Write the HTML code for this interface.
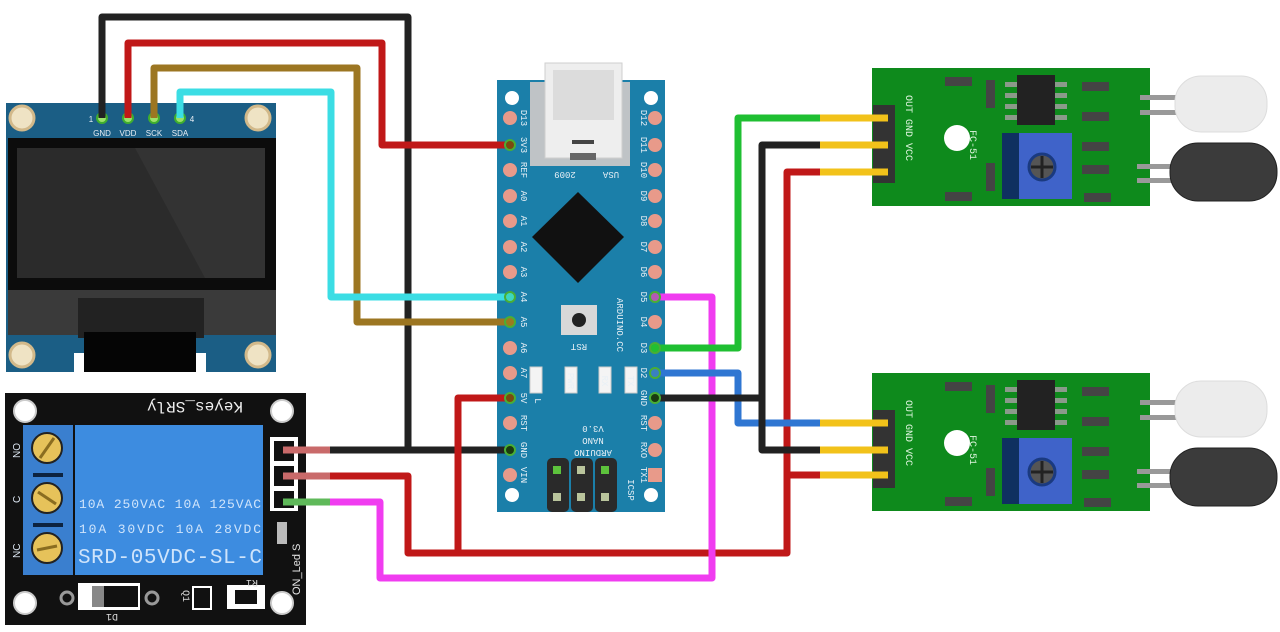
<!DOCTYPE html>
<html><head><meta charset="utf-8"><style>
html,body{margin:0;padding:0;background:#fff;}
svg{display:block;font-family:"Liberation Sans",sans-serif;}
</style></head><body>
<svg width="1280" height="632" viewBox="0 0 1280 632" xmlns="http://www.w3.org/2000/svg">
<rect width="1280" height="632" fill="#fff"/>

<!-- OLED -->
<rect x="6" y="103" width="270" height="269" fill="#1b5e85"/>
<g fill="#efe3c4" stroke="#d2b98a" stroke-width="3">
<circle cx="22" cy="118" r="12"/><circle cx="258" cy="118" r="12"/>
<circle cx="22" cy="355" r="12"/><circle cx="258" cy="355" r="12"/></g>
<rect x="8" y="138" width="268" height="152" fill="#0c0c0c"/>
<rect x="17" y="148" width="248" height="130" fill="#2b2b2b"/>
<polygon points="135,148 265,148 265,278 205,278" fill="#333"/>
<rect x="8" y="290" width="268" height="45" fill="#3a3a3a"/>
<rect x="78" y="298" width="126" height="40" fill="#222"/>
<rect x="84" y="332" width="112" height="40" fill="#050505"/>
<rect x="74" y="353" width="10" height="19" fill="#fff"/><rect x="196" y="353" width="10" height="19" fill="#fff"/>
<g font-size="8" fill="#e8eef4" text-anchor="middle">
<text x="102" y="136">GND</text><text x="128" y="136">VDD</text><text x="154" y="136">SCK</text><text x="180" y="136">SDA</text>
<text x="91" y="122">1</text><text x="192" y="122">4</text></g>
<g fill="#9ce26a" stroke="#3fae2e" stroke-width="2">
<circle cx="102" cy="118" r="5"/><circle cx="128" cy="118" r="5"/><circle cx="154" cy="118" r="5"/><circle cx="180" cy="118" r="5"/></g>

<!-- Arduino Nano -->
<rect x="497" y="80" width="168" height="432" fill="#1b7fa9"/>
<rect x="530" y="82" width="100" height="84" fill="#bfc3c6"/>
<rect x="545" y="63" width="77" height="95" fill="#eeeeee" stroke="#cfcfcf"/>
<rect x="553" y="70" width="61" height="50" fill="#dcdcdc"/>
<rect x="572" y="140" width="22" height="4" fill="#444"/>
<rect x="570" y="153" width="26" height="7" fill="#666"/>
<g fill="#fff"><circle cx="512" cy="98" r="7"/><circle cx="651" cy="98" r="7"/><circle cx="512" cy="495" r="7"/><circle cx="651" cy="495" r="7"/></g>
<polygon points="578,192 624,237 578,283 532,237" fill="#111"/>
<rect x="561" y="305" width="36" height="30" fill="#d8d8d8"/><circle cx="579" cy="320" r="7" fill="#222"/>
<g fill="#f4f4f4" stroke="#ccc"><rect x="530" y="367" width="12" height="26"/><rect x="565" y="367" width="12" height="26"/><rect x="599" y="367" width="12" height="26"/><rect x="625" y="367" width="12" height="26"/></g>
<rect x="547" y="458" width="22" height="54" rx="5" fill="#2a2a2a"/><rect x="571" y="458" width="22" height="54" rx="5" fill="#2a2a2a"/><rect x="595" y="458" width="22" height="54" rx="5" fill="#2a2a2a"/>
<g fill="#b9c49c"><rect x="553" y="466" width="8" height="8" fill="#5dc23c"/><rect x="577" y="466" width="8" height="8"/><rect x="601" y="466" width="8" height="8" fill="#5dc23c"/><rect x="553" y="493" width="8" height="8"/><rect x="577" y="493" width="8" height="8"/><rect x="601" y="493" width="8" height="8"/></g>
<g fill="#e89a8a">
<circle cx="510" cy="118" r="7"/><circle cx="510" cy="170" r="7"/><circle cx="510" cy="196" r="7"/><circle cx="510" cy="221" r="7"/><circle cx="510" cy="247" r="7"/><circle cx="510" cy="272" r="7"/><circle cx="510" cy="348" r="7"/><circle cx="510" cy="373" r="7"/><circle cx="510" cy="423" r="7"/><circle cx="510" cy="475" r="7"/>
<circle cx="655" cy="118" r="7"/><circle cx="655" cy="145" r="7"/><circle cx="655" cy="170" r="7"/><circle cx="655" cy="196" r="7"/><circle cx="655" cy="221" r="7"/><circle cx="655" cy="247" r="7"/><circle cx="655" cy="272" r="7"/><circle cx="655" cy="322" r="7"/><circle cx="655" cy="423" r="7"/><circle cx="655" cy="450" r="7"/><rect x="648" y="468" width="14" height="14"/></g>
<g font-family="Liberation Mono,monospace" font-size="9" fill="#e8f0f6" text-anchor="middle">
<text transform="translate(521,118) rotate(90)">D13</text>
<text transform="translate(521,145) rotate(90)">3V3</text>
<text transform="translate(521,170) rotate(90)">REF</text>
<text transform="translate(521,196) rotate(90)">A0</text>
<text transform="translate(521,221) rotate(90)">A1</text>
<text transform="translate(521,247) rotate(90)">A2</text>
<text transform="translate(521,272) rotate(90)">A3</text>
<text transform="translate(521,297) rotate(90)">A4</text>
<text transform="translate(521,322) rotate(90)">A5</text>
<text transform="translate(521,348) rotate(90)">A6</text>
<text transform="translate(521,373) rotate(90)">A7</text>
<text transform="translate(521,398) rotate(90)">5V</text>
<text transform="translate(521,423) rotate(90)">RST</text>
<text transform="translate(521,450) rotate(90)">GND</text>
<text transform="translate(521,475) rotate(90)">VIN</text>
<text transform="translate(641,118) rotate(90)">D12</text>
<text transform="translate(641,145) rotate(90)">D11</text>
<text transform="translate(641,170) rotate(90)">D10</text>
<text transform="translate(641,196) rotate(90)">D9</text>
<text transform="translate(641,221) rotate(90)">D8</text>
<text transform="translate(641,247) rotate(90)">D7</text>
<text transform="translate(641,272) rotate(90)">D6</text>
<text transform="translate(641,297) rotate(90)">D5</text>
<text transform="translate(641,322) rotate(90)">D4</text>
<text transform="translate(641,348) rotate(90)">D3</text>
<text transform="translate(641,373) rotate(90)">D2</text>
<text transform="translate(641,398) rotate(90)">GND</text>
<text transform="translate(641,423) rotate(90)">RST</text>
<text transform="translate(641,450) rotate(90)">RXO</text>
<text transform="translate(641,475) rotate(90)">TX1</text>
<text transform="translate(535,401) rotate(90)">L</text>
<text transform="translate(568,381) rotate(90)">PWR</text>
<text transform="translate(602,381) rotate(90)">RX</text>
<text transform="translate(628,381) rotate(90)">TX</text>
<text transform="translate(617,325) rotate(90)">ARDUINO.CC</text>
<text transform="translate(628,490) rotate(90)">ICSP</text>
<g transform="translate(593,426) rotate(180)"><text x="0" y="-24">ARDUINO</text><text x="0" y="-12">NANO</text><text x="0" y="0">V3.0</text></g>
<text transform="translate(565,172) rotate(180)">2009</text>
<text transform="translate(611,172) rotate(180)">USA</text>
<text transform="translate(579,344) rotate(180)">RST</text>
</g>

<!-- Relay -->
<rect x="5" y="393" width="301" height="232" fill="#111"/>
<g fill="#fff" stroke="#ccc" stroke-width="2"><circle cx="25" cy="411" r="11"/><circle cx="282" cy="411" r="11"/><circle cx="25" cy="603" r="11"/><circle cx="282" cy="603" r="11"/></g>
<rect x="23" y="425" width="50" height="150" fill="#3a7fcf"/>
<rect x="75" y="425" width="188" height="150" fill="#3d8ce0"/>
<g fill="#e6c25a" stroke="#222" stroke-width="2"><circle cx="47" cy="448" r="15"/><circle cx="47" cy="498" r="15"/><circle cx="47" cy="548" r="15"/></g>
<g stroke="#8a6d20" stroke-width="3"><line x1="40" y1="458" x2="54" y2="438"/><line x1="38" y1="492" x2="56" y2="504"/><line x1="37" y1="550" x2="57" y2="546"/></g>
<rect x="33" y="473" width="30" height="4" fill="#0d2340"/><rect x="33" y="523" width="30" height="4" fill="#0d2340"/>
<g fill="#dfe9f5" font-size="10"><g transform="translate(20,458) rotate(-90)"><text>NO</text></g><g transform="translate(20,503) rotate(-90)"><text>C</text></g><g transform="translate(20,558) rotate(-90)"><text>NC</text></g></g>
<g font-family="Liberation Mono,monospace" fill="#cfe4fb" xml:space="preserve" style="white-space:pre">
<text x="79" y="508" font-size="13" textLength="182">10A 250VAC  10A 125VAC</text>
<text x="79" y="533" font-size="13" textLength="182">10A  30VDC  10A  28VDC</text>
<text x="78" y="563" font-size="21" textLength="184">SRD-05VDC-SL-C</text></g>
<g transform="translate(243,402) rotate(180)"><text font-size="16" fill="#eee" font-family="Liberation Mono,monospace">Keyes_SRly</text></g>
<rect x="270" y="437" width="28" height="74" fill="#fff"/>
<rect x="274" y="441" width="20" height="20" fill="#111"/><rect x="274" y="466" width="20" height="20" fill="#111"/><rect x="274" y="491" width="20" height="17" fill="#111"/>
<rect x="277" y="522" width="10" height="22" fill="#bbb"/>
<g transform="translate(300,595) rotate(-90)" fill="#e5e5e5" font-size="11" xml:space="preserve" style="white-space:pre"><text>ON_Led   S</text></g>
<rect x="78" y="583" width="62" height="27" fill="#fff"/><rect x="104" y="586" width="34" height="21" fill="#111"/><rect x="92" y="586" width="12" height="21" fill="#888"/>
<circle cx="67" cy="598" r="6" fill="none" stroke="#999" stroke-width="3"/><circle cx="152" cy="598" r="6" fill="none" stroke="#999" stroke-width="3"/>
<rect x="193" y="587" width="18" height="22" fill="none" stroke="#fff" stroke-width="2"/><rect x="197" y="591" width="10" height="14" fill="#111"/>
<rect x="227" y="585" width="38" height="24" fill="#fff"/><rect x="235" y="590" width="22" height="14" fill="#111"/>
<g fill="#ddd" font-size="10" font-family="Liberation Mono,monospace"><g transform="translate(118,614) rotate(180)"><text>D1</text></g><g transform="translate(183,590) rotate(90)"><text>Q1</text></g><g transform="translate(258,580) rotate(180)"><text>R1</text></g></g>

<!-- Sensors -->
<g id="s1">
<rect x="872" y="68" width="278" height="138" fill="#0e8a1c"/>
<rect x="873" y="105" width="22" height="78" fill="#333"/>
<g transform="translate(906,95) rotate(90)"><text font-size="10" font-family="Liberation Mono,monospace" fill="#dff5df">OUT GND VCC</text></g>
<g transform="translate(970,130) rotate(90)"><text font-size="10" font-family="Liberation Mono,monospace" fill="#dff5df">FC-51</text></g>
<circle cx="957" cy="138" r="13" fill="#fff"/>
<rect x="1017" y="75" width="38" height="50" fill="#222"/>
<g fill="#8a9a8a"><rect x="1005" y="82" width="12" height="5"/><rect x="1005" y="93" width="12" height="5"/><rect x="1005" y="104" width="12" height="5"/><rect x="1005" y="115" width="12" height="5"/><rect x="1055" y="82" width="12" height="5"/><rect x="1055" y="93" width="12" height="5"/><rect x="1055" y="104" width="12" height="5"/><rect x="1055" y="115" width="12" height="5"/></g>
<rect x="1002" y="133" width="18" height="66" fill="#0f3060"/><rect x="1019" y="133" width="53" height="66" fill="#3f63c9"/>
<circle cx="1042" cy="167" r="13" fill="#555" stroke="#1a3a80" stroke-width="3"/><path d="M1031 167h22M1042 156v22" stroke="#222" stroke-width="3"/>
<g fill="#444"><rect x="945" y="77" width="27" height="9"/><rect x="945" y="192" width="27" height="9"/><rect x="986" y="80" width="9" height="28"/><rect x="986" y="163" width="9" height="28"/><rect x="1082" y="82" width="27" height="9"/><rect x="1082" y="112" width="27" height="9"/><rect x="1082" y="142" width="27" height="9"/><rect x="1082" y="165" width="27" height="9"/><rect x="1084" y="193" width="27" height="9"/></g>
<g fill="#999"><rect x="1140" y="95" width="40" height="5"/><rect x="1140" y="110" width="40" height="5"/><rect x="1137" y="164" width="40" height="5"/><rect x="1137" y="178" width="40" height="5"/></g>
<rect x="1175" y="76" width="92" height="56" rx="26" fill="#ececec" stroke="#ddd"/>
<rect x="1170" y="143" width="107" height="58" rx="28" fill="#3b3b3b" stroke="#222"/>
</g>
<use href="#s1" transform="translate(0,305)"/>

<!-- Wires -->
<g fill="none" stroke-width="7" stroke-linejoin="round">
<path d="M102,118 V17 H408 V450" stroke="#222"/>
<path d="M128,118 V43 H382 V145 H510" stroke="#c01818"/>
<path d="M154,118 V68 H357 V322 H510" stroke="#9c7622"/>
<path d="M180,118 V92 H331 V297 H510" stroke="#3bdde4"/>
<path d="M330,450 H510" stroke="#222"/>
<path d="M330,476 H408 V553 H787 V172 H820" stroke="#c01818"/>
<path d="M510,398 H458 V553" stroke="#c01818"/>
<path d="M787,475 H820" stroke="#c01818"/>
<path d="M330,502 H380 V578 H712 V297 H655" stroke="#f03cf0"/>
<path d="M655,348 H738 V118 H820" stroke="#1fbf32"/>
<path d="M655,373 H738 V423 H820" stroke="#2f76d2"/>
<path d="M655,398 H762" stroke="#222"/>
<path d="M820,145 H762 V450 H820" stroke="#222"/>
</g>
<g stroke-width="7">
<line x1="283" y1="450" x2="330" y2="450" stroke="#c96a6a"/>
<line x1="283" y1="476" x2="330" y2="476" stroke="#c96a6a"/>
<line x1="283" y1="502" x2="330" y2="502" stroke="#5fb95a"/>
<g stroke="#f2c21a">
<line x1="820" y1="118" x2="888" y2="118"/><line x1="820" y1="145" x2="888" y2="145"/><line x1="820" y1="172" x2="888" y2="172"/>
<line x1="820" y1="423" x2="888" y2="423"/><line x1="820" y1="450" x2="888" y2="450"/><line x1="820" y1="475" x2="888" y2="475"/></g>
</g>
<g fill="#a7dc5a" stroke="#4aae35" stroke-width="2">
<circle cx="510" cy="145" r="5" fill="#7a4a10"/><circle cx="510" cy="297" r="5" fill="#3dd6c0"/><circle cx="510" cy="322" r="5" fill="#9a7a20"/><circle cx="510" cy="398" r="5" fill="#7a4a10"/><circle cx="510" cy="450" r="5" fill="#1a3a10"/>
<circle cx="655" cy="297" r="5" fill="#b35ab3"/><circle cx="655" cy="348" r="5" fill="#22c030"/><circle cx="655" cy="373" r="5" fill="#3a80c0"/><circle cx="655" cy="398" r="5" fill="#1a3a10"/></g>
</svg>
</body></html>
